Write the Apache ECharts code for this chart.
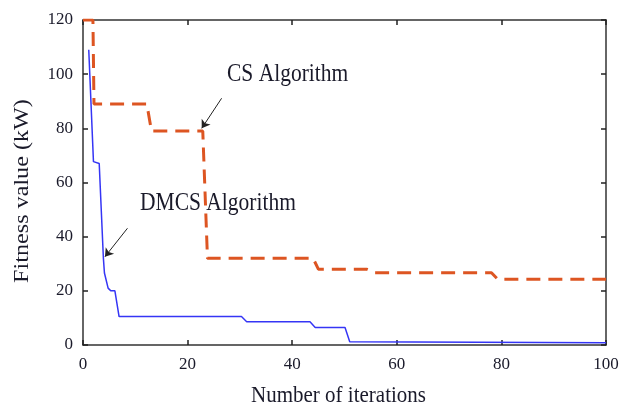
<!DOCTYPE html>
<html><head><meta charset="utf-8">
<script src="https://cdn.jsdelivr.net/npm/echarts@6/dist/echarts.min.js"></script>
<style>html,body{margin:0;padding:0;background:#fff}#c{width:622px;height:409px}</style>
</head><body><div id="c"></div>
<script>
const xTicks = [0, 20, 40, 60, 80, 100];
const yTicks = [0, 20, 40, 60, 80, 100, 120];
const csX = [0, 1.9, 2.1, 12.2, 13.1, 22.9, 23.8, 44, 45, 54.2, 55.8, 78.1, 79.3, 100];
const csY = [120, 120, 89, 89, 79, 79, 32, 32, 28, 28, 26.7, 26.7, 24.3, 24.3];
const dmX = [1.1, 2.0, 3.1, 3.9, 4.1, 4.8, 5.3, 6.1, 6.9, 30.3, 31.3, 43.4, 44.4, 50.1, 51, 100];
const dmY = [109, 67.7, 67, 32, 26.6, 21, 20, 20, 10.5, 10.5, 8.6, 8.6, 6.5, 6.5, 1.2, 0.8];
const csArrow = [[26.5, 91.1], [22.7, 80]];
const dmArrow = [[8.5, 43.1], [4.2, 32.6]];
const labels = {cs: 'CS Algorithm', dm: 'DMCS Algorithm', x: 'Number of iterations', y: 'Fitness value (kW)'};

const font = 'Liberation Serif';
const txt = '#1a1a2a';
const chart = echarts.init(document.getElementById('c'));
const axisCommon = {
  type: 'value', min: 0,
  axisLine: {show: true, onZero: false, lineStyle: {color: '#333', width: 1.5}},
  axisTick: {show: true, inside: true, length: 5, lineStyle: {color: '#222', width: 1.5}},
  splitLine: {show: false}
};
chart.setOption({
  animation: false,
  grid: {left: 83, right: 16, top: 20, bottom: 64},
  xAxis: [
    Object.assign({}, axisCommon, {max: 100, interval: 20, position: 'bottom',
      axisLabel: {fontFamily: font, fontSize: 17, color: txt, margin: 11}}),
    Object.assign({}, axisCommon, {max: 100, interval: 20, position: 'top', axisLabel: {show: false}})
  ],
  yAxis: [
    Object.assign({}, axisCommon, {max: 120, interval: 20, position: 'left',
      axisLabel: {fontFamily: font, fontSize: 17, color: txt, margin: 10}}),
    Object.assign({}, axisCommon, {max: 120, interval: 20, position: 'right', axisLabel: {show: false}})
  ],
  series: [
    {
      type: 'line', name: 'CS', symbol: 'none',
      data: csX.map((x, i) => [x, csY[i]]),
      lineStyle: {color: '#dd5522', width: 3, type: [14, 8]},
      markLine: {
        silent: true, symbol: ['none', 'arrow'], symbolSize: 8,
        lineStyle: {color: '#222', width: 1, type: 'solid'}, label: {show: false},
        data: [[{coord: csArrow[0]}, {coord: csArrow[1]}], [{coord: dmArrow[0]}, {coord: dmArrow[1]}]]
      }
    },
    {
      type: 'line', name: 'DMCS', symbol: 'none',
      data: dmX.map((x, i) => [x, dmY[i]]),
      lineStyle: {color: '#3535f5', width: 1.5}
    }
  ],
  graphic: [
    {type: 'text', x: 227, y: 74, scaleY: 1.2, style: {text: labels.cs, x: 0, y: 0, textVerticalAlign: 'middle', fontFamily: font, fontSize: 21.5, fill: txt}},
    {type: 'text', x: 140, y: 203, scaleY: 1.2, style: {text: labels.dm, x: 0, y: 0, textVerticalAlign: 'middle', fontFamily: font, fontSize: 21.5, fill: txt}},
    {type: 'text', x: 338.5, y: 396, scaleY: 1.1, style: {text: labels.x, x: 0, y: 0, textAlign: 'center', textVerticalAlign: 'middle', fontFamily: font, fontSize: 21, fill: txt}},
    {type: 'text', x: 22, y: 191, rotation: Math.PI / 2, scaleX: 1.15, style: {text: labels.y, x: 0, y: 0, textAlign: 'center', textVerticalAlign: 'middle', fontFamily: font, fontSize: 21, fill: txt}}
  ]
});
</script></body></html>
